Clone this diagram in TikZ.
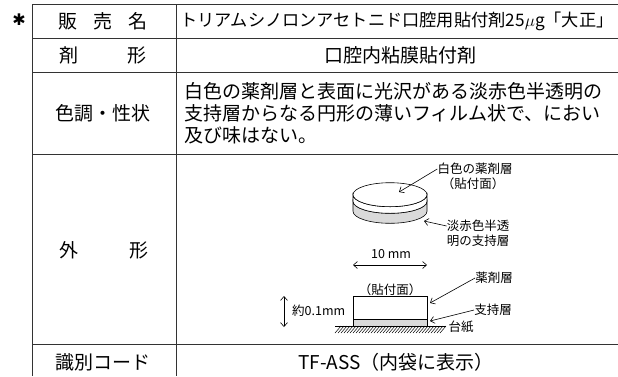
\documentclass[tikz,border=0pt]{standalone}
\usepackage{fontspec}
\usetikzlibrary{arrows.meta}
\setmainfont{Noto Sans CJK JP}
\newfontfamily\symfont{DejaVu Sans}
\definecolor{rule}{HTML}{333333}
\definecolor{layer}{HTML}{DADADA}
\begin{document}
\begin{tikzpicture}[x=1pt,y=-1pt,>={Straight Barb[length=4pt,width=7pt]},
  cell/.style={inner sep=0pt,font=\fontsize{19}{22}\selectfont},
  note/.style={inner sep=0pt,font=\fontsize{12.5}{15}\selectfont},
  leader/.style={draw,line width=0.6pt,->}]
\useasboundingbox (0,0) rectangle (618,376);

% table rules
\draw[rule,line width=0.9pt] (32,4) -- (618,4);
\foreach \y in {38,72,154,344}
  \draw[rule,line width=0.9pt] (32,\y) -- (618,\y);
\draw[rule,line width=0.9pt] (32,4) -- (32,376);
\draw[rule,line width=0.9pt] (176,4) -- (176,376);

\node[inner sep=0pt,font=\symfont\fontsize{16}{16}\selectfont] (star) at (19,20) {✱};

% left column
\node[cell] (name) at (103,21) {\hbox to 90pt{販\hfil 売\hfil 名}};
\node[cell] (form) at (103,55) {\hbox to 88pt{剤\hfil 形}};
\node[cell] (look) at (103,113) {色調・性状};
\node[cell] (shape) at (104,250) {\hbox to 90pt{外\hfil 形}};
\node[cell] (code) at (103,362) {識別コード};

% right column
\node[cell,font=\fontsize{17.2}{20}\selectfont] (namev) at (397,21) {トリアムシノロンアセトニド口腔用貼付剤25$\mu$g「大正」};
\node[cell] (formv) at (400,55) {口腔内粘膜貼付剤};
\node[cell,anchor=west,align=left] (lookv) at (184,113) {白色の薬剤層と表面に光沢がある淡赤色半透明の\\支持層からなる円形の薄いフィルム状で、におい\\及び味はない。};
\node[cell] (codev) at (396,362) {TF-ASS（内袋に表示）};

% disk
\filldraw[fill=layer,line width=0.6pt] (353,201.3) -- (353,211.3) arc (180:0:37 and 12) -- (427,201.3) arc (0:180:37 and 12) -- cycle;
\filldraw[fill=white,line width=0.6pt] (353,194.7) -- (353,201.3) arc (180:0:37 and 12) -- (427,194.7) arc (0:180:37 and 12) -- cycle;
\filldraw[fill=white,line width=0.6pt] (390,194.7) ellipse [x radius=37,y radius=12];
\coordinate (toptip) at (399,192);
\coordinate (sidetip) at (424,221);

\node[note] (drugtop) at (475,169) {白色の薬剤層};
\node[note] (facetop) at (473,184) {（貼付面）};
\node[note] (supptop) at (478,226) {淡赤色半透};
\node[note] (supptop2) at (478,240.5) {明の支持層};
\path[leader] (drugtop.west) -- (toptip);
\path[leader] (supptop.west) -- (sidetip);

% side view
\coordinate (w1) at (353,265);
\coordinate (w2) at (427,265);
\draw[<->,line width=0.6pt] (w1) -- (w2);
\node[note] (width) at (391,254) {10 mm};
\node[note] (facelow) at (390,290) {（貼付面）};
\filldraw[fill=white,line width=0.6pt] (353,296) rectangle (427,319.5);
\filldraw[fill=layer,line width=0.6pt] (353,319.5) rectangle (427,326);
\draw[line width=0.6pt] (335,326) -- (446,326);
\foreach \i in {0,...,35}
  \draw[line width=0.5pt] (335+3*\i,333) -- ++(6,-7);
\coordinate (h1) at (284,296);
\coordinate (h2) at (284,327);
\draw[<->,line width=0.6pt] (h1) -- (h2);
\node[note,anchor=west] (thick) at (292,311) {約0.1mm};
\coordinate (droptip) at (430,303);
\coordinate (supptip) at (430,321);
\node[note] (druglow) at (494,278) {薬剤層};
\node[note] (supplow) at (493,310) {支持層};
\node[note] (paper) at (461,327) {台紙};
\path[leader] (druglow.west) -- (droptip);
\path[leader] (supplow.west) -- (supptip);
\end{tikzpicture}
\end{document}
